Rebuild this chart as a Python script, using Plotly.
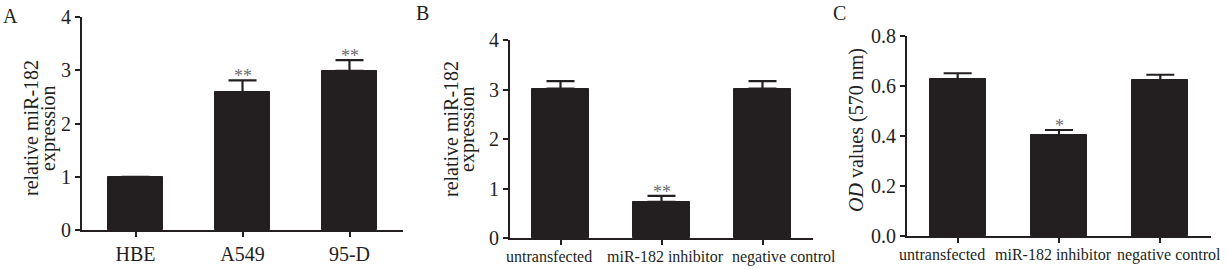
import plotly.graph_objects as go

W, H = 1228, 269
INK = "#231f20"
FONT = "Liberation Serif"

# ---- data ----
cats_a = ["HBE", "A549", "95-D"]
vals_a = [1.0, 2.59, 2.99]
err_a = [0.0, 0.22, 0.20]
stars_a = ["", "**", "**"]

cats_b = ["untransfected", "miR-182 inhibitor", "negative control"]
vals_b = [3.02, 0.73, 3.02]
err_b = [0.15, 0.12, 0.15]
stars_b = ["", "**", ""]

cats_c = ["untransfected", "miR-182 inhibitor", "negative control"]
vals_c = [0.627, 0.404, 0.624]
err_c = [0.024, 0.020, 0.021]
stars_c = ["", "*", ""]

ticks_ab = [0, 1, 2, 3, 4]
ticks_c = [0.0, 0.2, 0.4, 0.6, 0.8]

# ---- layout helpers (pixel -> paper) ----
def xd(a, b):
    return [a / W, b / W]

def yd(bottom, top):
    return [1 - bottom / H, 1 - top / H]

panels = [
    dict(cats=cats_a, vals=vals_a, err=err_a, stars=stars_a, x=xd(82, 403), y=yd(230, 17),
         rng=[0, 4], ticks=ticks_ab, fmt="d", width=0.52, tfs=20, custom=False),
    dict(cats=cats_b, vals=vals_b, err=err_b, stars=stars_b, x=xd(510, 813), y=yd(238, 40),
         rng=[0, 4], ticks=ticks_ab, fmt="d", width=0.555, tfs=16, custom=True,
         shifts=[-12, 4, 21]),
    dict(cats=cats_c, vals=vals_c, err=err_c, stars=stars_c, x=xd(907, 1211), y=yd(236, 36),
         rng=[0, 0.8], ticks=ticks_c, fmt=".1f", width=0.555, tfs=16, custom=True,
         shifts=[-16, -6, 9]),
]

fig = go.Figure()
annotations = []
for i, p in enumerate(panels, start=1):
    xa = "x" if i == 1 else f"x{i}"
    ya = "y" if i == 1 else f"y{i}"
    fig.add_trace(go.Bar(
        x=p["cats"], y=p["vals"], width=p["width"],
        marker=dict(color=INK, line=dict(color=INK, width=1)),
        error_y=dict(type="data", array=p["err"], arrayminus=[0] * len(p["err"]),
                     symmetric=False, color=INK, thickness=2.2, width=14),
        xaxis=xa, yaxis=ya, showlegend=False,
    ))
    axis_common = dict(showline=True, linecolor=INK, linewidth=2, ticks="outside",
                       ticklen=5, tickwidth=2, tickcolor=INK, showgrid=False,
                       zeroline=False, automargin=False)
    fig.layout[f"xaxis{'' if i == 1 else i}"] = dict(
        domain=p["x"], anchor=ya, range=[-0.5, 2.5], type="category", tickangle=0,
        showticklabels=not p["custom"],
        tickfont=dict(family=FONT, size=p["tfs"], color=INK), **axis_common)
    fig.layout[f"yaxis{'' if i == 1 else i}"] = dict(
        domain=p["y"], anchor=xa, range=p["rng"], tickvals=p["ticks"],
        tickformat=p["fmt"], tickfont=dict(family=FONT, size=20, color=INK),
        **axis_common)
    if p["custom"]:
        # category labels spread slightly wider than the ticks, as in the original
        for c, sh in zip(p["cats"], p["shifts"]):
            annotations.append(dict(x=c, y=0, xref=xa, yref=ya, text=c,
                                    showarrow=False, xanchor="center", yanchor="top",
                                    xshift=sh, yshift=-8,
                                    font=dict(family=FONT, size=p["tfs"], color=INK)))
    for c, v, e, s in zip(p["cats"], p["vals"], p["err"], p["stars"]):
        if s:
            annotations.append(dict(x=c, y=v + e, xref=xa, yref=ya, text=s,
                                    showarrow=False, yanchor="bottom", yshift=-8,
                                    font=dict(family=FONT, size=18, color="#6d6b6c")))

# y axis titles
def ytitle(text, px, py, size=20):
    annotations.append(dict(x=px / W, y=1 - py / H, xref="paper", yref="paper",
                            text=text, textangle=-90, showarrow=False,
                            xanchor="center", yanchor="middle",
                            font=dict(family=FONT, size=size, color=INK)))

ytitle("relative miR-182", 31, 128)
ytitle("expression", 48, 128)
ytitle("relative miR-182", 451, 129)
ytitle("expression", 467, 129)
ytitle("<i>OD</i> values (570 nm)", 856, 130)

for letter, px, py in [("A", 10, 16), ("B", 422, 13), ("C", 839, 13)]:
    annotations.append(dict(x=px / W, y=1 - py / H, xref="paper", yref="paper",
                            text=letter, showarrow=False, xanchor="center",
                            yanchor="middle",
                            font=dict(family=FONT, size=20, color=INK)))

fig.update_layout(width=W, height=H, margin=dict(l=0, r=0, t=0, b=0),
                  paper_bgcolor="white", plot_bgcolor="white",
                  annotations=annotations, bargap=0)
fig.write_html("out.html", config={"displayModeBar": False},
               post_script="document.body.style.margin='0';document.body.style.overflow='hidden';")
